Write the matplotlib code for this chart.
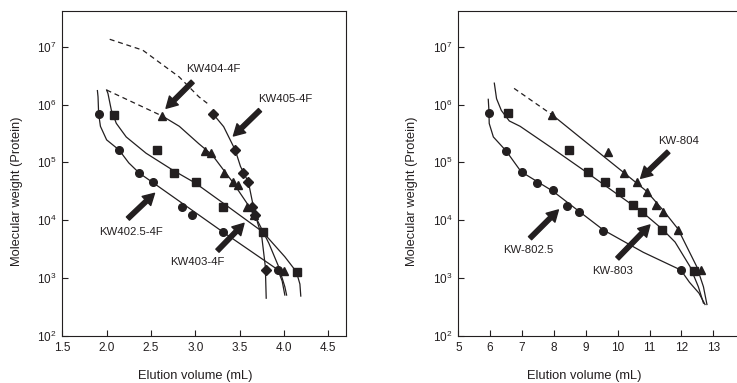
import matplotlib
matplotlib.use("Agg")
import matplotlib.pyplot as plt

plt.rcParams["font.family"] = ["Liberation Sans", "DejaVu Sans"]
plt.rcParams["mathtext.default"] = "regular"

INK = "#231f20"

# ── Left panel: KW400-4F columns ────────────────────────────────────
l_circ_x = [1.91, 2.14, 2.37, 2.52, 2.85, 2.96, 3.31, 3.93]
l_circ_mw = [6.9e5, 1.64e5, 6.5e4, 4.5e4, 1.7e4, 1.25e4, 6.3e3, 1.4e3]
l_circ_fit_x = [1.896, 1.903, 1.91, 1.93, 2.0, 2.14, 2.25, 2.37, 2.52, 3.31, 3.93, 3.98, 4.01]
l_circ_fit_mw = [1.74e6, 1.36e6, 6.9e5, 4.2e5, 2.45e5, 1.64e5, 9.8e4, 6.5e4, 4.5e4, 6.3e3, 1.4e3, 8.9e2, 5.1e2]

l_sq_x = [2.08, 2.57, 2.76, 3.01, 3.31, 3.76, 4.15]
l_sq_mw = [6.6e5, 1.64e5, 6.6e4, 4.5e4, 1.7e4, 6.3e3, 1.3e3]
l_sq_fit_x = [2.0, 2.015, 2.053, 2.109, 2.221, 2.445, 2.743, 3.0, 3.266, 3.76, 4.01, 4.14, 4.18, 4.19]
l_sq_fit_mw = [1.78e6, 1.55e6, 8.0e5, 4.73e5, 2.75e5, 1.44e5, 7.4e4, 4.4e4, 2.24e4, 6.3e3, 2.34e3, 1.29e3, 7.9e2, 4.9e2]

l_tri_x = [2.63, 3.11, 3.18, 3.32, 3.42, 3.48, 3.58, 3.66, 4.0]
l_tri_mw = [6.3e5, 1.6e5, 1.48e5, 6.5e4, 4.5e4, 4.1e4, 1.7e4, 1.25e4, 1.33e3]
l_tri_dash_x = [2.0, 2.63]
l_tri_dash_mw = [1.78e6, 6.3e5]
l_tri_fit_x = [2.63, 2.82, 3.04, 3.19, 3.42, 3.60, 3.66, 3.83, 3.94, 4.01, 4.03]
l_tri_fit_mw = [6.3e5, 4.2e5, 2.1e5, 1.35e5, 4.6e4, 1.8e4, 1.32e4, 4.0e3, 1.58e3, 7.1e2, 5.1e2]

l_dia_x = [3.20, 3.45, 3.54, 3.60, 3.64, 3.67, 3.80]
l_dia_mw = [6.9e5, 1.64e5, 6.6e4, 4.5e4, 1.7e4, 1.25e4, 1.4e3]
l_dia_dash_x = [2.035, 2.407, 2.818, 3.04, 3.135]
l_dia_dash_mw = [1.34e7, 8.7e6, 3.0e6, 1.36e6, 1.05e6]
l_dia_fit_x = [3.20, 3.32, 3.45, 3.51, 3.60, 3.64, 3.677, 3.75, 3.79, 3.80]
l_dia_fit_mw = [6.9e5, 4.14e5, 1.64e5, 8.5e4, 4.5e4, 2.24e4, 1.23e4, 5.2e3, 1.58e3, 4.5e2]

# ── Right panel: KW-800 columns ─────────────────────────────────────
r_circ_x = [5.97, 6.50, 6.99, 7.48, 7.96, 8.42, 8.80, 9.55, 11.98]
r_circ_mw = [7.0e5, 1.58e5, 6.9e4, 4.4e4, 3.3e4, 1.76e4, 1.37e4, 6.6e3, 1.38e3]
r_circ_fit_x = [5.94, 5.96, 5.97, 6.10, 6.50, 6.97, 7.96, 8.80, 9.55, 10.8, 11.98, 12.25, 12.55, 12.74]
r_circ_fit_mw = [1.23e6, 8.0e5, 4.7e5, 2.75e5, 1.58e5, 6.9e4, 3.2e4, 1.41e4, 6.8e3, 2.8e3, 1.38e3, 8.5e2, 5.5e2, 3.5e2]

r_sq_x = [6.55, 8.47, 9.06, 9.60, 10.07, 10.49, 10.76, 11.39, 12.39]
r_sq_mw = [7.0e5, 1.64e5, 6.7e4, 4.5e4, 3.1e4, 1.8e4, 1.4e4, 6.8e3, 1.35e3]
r_sq_fit_x = [6.13, 6.2, 6.35, 6.6, 6.94, 7.88, 8.92, 9.60, 10.76, 11.39, 11.80, 12.27, 12.53, 12.69]
r_sq_fit_mw = [2.34e6, 1.26e6, 7.9e5, 5.2e5, 4.2e5, 1.86e5, 7.4e4, 4.0e4, 1.4e4, 7.1e3, 4.2e3, 1.58e3, 7.1e2, 3.7e2]

r_tri_x = [7.95, 9.70, 10.20, 10.60, 10.91, 11.20, 11.43, 11.89, 12.60]
r_tri_mw = [6.6e5, 1.53e5, 6.6e4, 4.5e4, 3.1e4, 1.8e4, 1.4e4, 6.8e3, 1.4e3]
r_tri_dash_x = [6.75, 7.95]
r_tri_dash_mw = [1.9e6, 6.6e5]
r_tri_fit_x = [7.95, 8.82, 10.2, 10.9, 11.43, 11.89, 12.06, 12.48, 12.69, 12.80]
r_tri_fit_mw = [6.6e5, 2.7e5, 6.6e4, 3.2e4, 1.48e4, 7.1e3, 4.6e3, 1.58e3, 7.1e2, 3.5e2]

# labels: (text, text_xy, arrow_tail, arrow_tip)
l_labels = [
    ("KW404-4F", (3.20, 4.1e6), (2.97, 2.48e6), (2.67, 8.6e5)),
    ("KW405-4F", (4.01, 1.23e6), (3.73, 8.0e5), (3.43, 2.86e5)),
    ("KW402.5-4F", (2.27, 6.3e3), (2.24, 1.07e4), (2.54, 2.92e4)),
    ("KW403-4F", (3.02, 1.92e3), (3.25, 2.98e3), (3.55, 8.85e3)),
]
r_labels = [
    ("KW-804", (11.92, 2.37e5), (11.59, 1.53e5), (10.72, 5.3e4)),
    ("KW-802.5", (7.20, 3.06e3), (7.25, 4.9e3), (8.14, 1.51e4)),
    ("KW-803", (9.85, 1.35e3), (9.99, 2.19e3), (11.01, 8.3e3)),
]

W, H = 737, 383
fig = plt.figure(figsize=(W / 100, H / 100), dpi=100)
ax_l = fig.add_axes([62.3 / W, 47 / H, 283.7 / W, 325 / H])
ax_r = fig.add_axes([458.3 / W, 47 / H, 286.9 / W, 325 / H])

ms = 5.5
line_kw = dict(color=INK, lw=0.9)
dash_kw = dict(color=INK, lw=0.9, linestyle=(0, (4, 3)))
mark_kw = dict(color=INK, linestyle="none", zorder=3)

# left curves + markers
ax_l.plot(l_circ_fit_x, l_circ_fit_mw, **line_kw)
ax_l.plot(l_sq_fit_x, l_sq_fit_mw, **line_kw)
ax_l.plot(l_tri_fit_x, l_tri_fit_mw, **line_kw)
ax_l.plot(l_dia_fit_x, l_dia_fit_mw, **line_kw)
ax_l.plot(l_tri_dash_x, l_tri_dash_mw, **dash_kw)
ax_l.plot(l_dia_dash_x, l_dia_dash_mw, **dash_kw)
ax_l.plot(l_circ_x, l_circ_mw, marker="o", markersize=ms, **mark_kw)
ax_l.plot(l_sq_x, l_sq_mw, marker="s", markersize=ms, **mark_kw)
ax_l.plot(l_tri_x, l_tri_mw, marker="^", markersize=ms + 0.5, **mark_kw)
ax_l.plot(l_dia_x, l_dia_mw, marker="D", markersize=ms - 0.5, **mark_kw)

# right curves + markers
ax_r.plot(r_circ_fit_x, r_circ_fit_mw, **line_kw)
ax_r.plot(r_sq_fit_x, r_sq_fit_mw, **line_kw)
ax_r.plot(r_tri_fit_x, r_tri_fit_mw, **line_kw)
ax_r.plot(r_tri_dash_x, r_tri_dash_mw, **dash_kw)
ax_r.plot(r_circ_x, r_circ_mw, marker="o", markersize=ms, **mark_kw)
ax_r.plot(r_sq_x, r_sq_mw, marker="s", markersize=ms, **mark_kw)
ax_r.plot(r_tri_x, r_tri_mw, marker="^", markersize=ms + 0.5, **mark_kw)

arrow_style = "simple,head_length=0.8,head_width=0.9,tail_width=0.32"
for ax, labels in [(ax_l, l_labels), (ax_r, r_labels)]:
    for text, txy, tail, tip in labels:
        ax.text(txy[0], txy[1], text, fontsize=8.2, color=INK,
                ha="center", va="center")
        ax.annotate("", xy=tip, xytext=tail,
                    arrowprops=dict(arrowstyle=arrow_style, color=INK,
                                    mutation_scale=10, shrinkA=0, shrinkB=0))

for ax in (ax_l, ax_r):
    ax.set_yscale("log")
    ax.set_ylim(1e2, 4.13e7)
    ax.set_yticks([1e2, 1e3, 1e4, 1e5, 1e6, 1e7])
    ax.minorticks_off()
    ax.tick_params(direction="in", length=4, width=0.8, labelsize=8.5,
                   colors=INK, pad=4)
    for sp in ax.spines.values():
        sp.set_linewidth(0.8)
        sp.set_color(INK)
    ax.set_ylabel("Molecular weight (Protein)", fontsize=9.3, color=INK)
    ax.set_xlabel("Elution volume (mL)", fontsize=9.3, color=INK)

ax_l.set_xlim(1.5, 4.7)
ax_l.set_xticks([1.5, 2.0, 2.5, 3.0, 3.5, 4.0, 4.5])
ax_l.set_xticklabels(["1.5", "2.0", "2.5", "3.0", "3.5", "4.0", "4.5"])
ax_r.set_xlim(5, 14)
ax_r.set_xticks(range(5, 14))

ax_l.yaxis.set_label_coords(-0.139, 0.446)
ax_l.xaxis.set_label_coords(0.468, -0.105)
ax_r.yaxis.set_label_coords(-0.141, 0.446)
ax_r.xaxis.set_label_coords(0.438, -0.105)

fig.savefig("out.png", dpi=100)
plt.close(fig)
